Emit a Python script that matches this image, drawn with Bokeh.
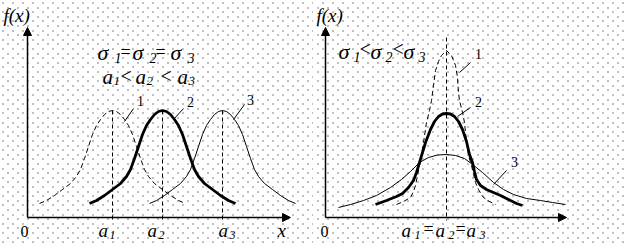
import numpy as np
from bokeh.plotting import figure
from bokeh.layouts import row
from bokeh.models import Range1d, Arrow, NormalHead, Label
from bokeh.embed import file_html
from bokeh.resources import INLINE

# ---------------- data ----------------
# Left panel: sigma1 = sigma2 = sigma3, a1 < a2 < a3 (same shape, shifted)
left_centers = [85, 135, 195]          # a1, a2, a3
left_dx = [-73, -66, -58, -50, -42, -36, -32, -28, -24, -20, -16, -12, -8, -4, 0,
           4, 8, 12, 16, 20, 24, 28, 32, 36, 42, 50, 58, 66, 73]
left_f = [14, 17, 22, 28, 34, 41, 48, 59, 71, 83, 92, 98, 103, 106, 107,
          106, 103, 98, 92, 83, 71, 59, 48, 41, 34, 28, 22, 17, 14]
left_labels = ["1", "2", "3"]

# Right panel: a1 = a2 = a3, sigma1 < sigma2 < sigma3
right_center = 121
r1_dx = [-50, -43, -36, -33, -31, -29, -27, -25, -23, -20, -17, -15, -13, -11, -8, -5, 0,
         5, 9, 11, 12, 13, 16, 18, 20, 22, 25, 27, 29, 32, 36, 41, 49]
r1_f = [13, 16, 20, 26, 32, 42, 52, 63, 75, 95, 107, 117, 132, 147, 156, 162, 167,
        162, 152, 140, 125, 117, 105, 95, 75, 62, 52, 43, 35, 28, 21, 17, 13]
r2_dx = [-71, -60, -50, -44, -38, -33, -30, -27, -24, -21, -16, -12, -8, -4, 0,
         4, 8, 12, 16, 20, 23, 26, 28, 30, 34, 40, 47, 54, 62, 70, 76]
r2_f = [13, 17, 21, 24, 30, 37, 45, 55, 65, 75, 88, 96, 101, 103.5, 104,
        103.5, 101, 96, 88, 76, 63, 55, 46, 38, 32, 28, 25, 22, 18, 14, 12]
r3_dx = [-108, -96, -83, -70, -56, -45, -36, -27, -18, -9, 0,
         9, 18, 26, 36, 47, 57, 67, 80, 94, 106, 119]
r3_f = [10, 13, 17, 22, 30, 38, 46, 55, 60, 62.5, 63,
        62, 59, 53, 45, 35, 28, 23, 19, 17, 15, 13]

FONT = "Liberation Serif"
AXIS_Y = 217   # pixel row of the x axis (page coordinates)


def make_fig(ox, xmax):
    p = figure(width=313, height=244, x_range=Range1d(-ox, xmax), y_range=Range1d(-27, 217),
               output_backend="svg", toolbar_location=None, min_border=0,
               x_axis_location=None, y_axis_location=None,
               outline_line_color=None, background_fill_color="white",
               border_fill_color="white")
    p.grid.visible = False
    return p


def dots(p, ox, x0):
    xs, ys = [], []
    k = 0
    while True:
        r = 2 + int(round(k * 4.6))
        if r >= 244:
            break
        off = 2 + (k % 2) * 5
        for c in range(x0 + ((off - x0) % 10), x0 + 313, 10):
            xs.append(c + 0.5 - (x0 + ox))
            ys.append(AXIS_Y - (r + 0.5))
        k += 1
    p.rect(x=xs, y=ys, width=1, height=1, fill_color="#000000", line_color=None)


def put(p, ox, px, py, s, size, italic=True, align="left"):
    p.add_layout(Label(x=px - ox, y=AXIS_Y - py + 0.28 * size, text=s, text_font=FONT,
                       text_font_size=f"{size}px",
                       text_font_style="italic" if italic else "normal",
                       text_align=align, text_baseline="alphabetic", text_color="black"))


def axes(p, xlen):
    p.add_layout(Arrow(end=NormalHead(size=8, fill_color="black", line_color="black", line_width=1),
                       x_start=0, y_start=0, x_end=0, y_end=190, line_width=1.5, line_color="black"))
    p.add_layout(Arrow(end=NormalHead(size=8, fill_color="black", line_color="black", line_width=1),
                       x_start=0, y_start=0, x_end=xlen, y_end=0, line_width=1.5, line_color="black"))


# ---------------- left panel ----------------
OXL = 27
pl = make_fig(OXL, 286)
dots(pl, OXL, 0)
axes(pl, 263)

for a, h in zip(left_centers, [107, 107, 107]):
    pl.line([a, a], [h, -4], line_color="black", line_width=1, line_dash="4 3")

styles = [dict(line_width=1, line_dash="5 3"), dict(line_width=2.8), dict(line_width=1)]
for a, st in zip(left_centers, styles):
    pl.line([a + d for d in left_dx], left_f, line_color="black", **st)

# leader lines
pl.line([106, 97], [109, 96], line_color="black", line_width=1)
pl.line([156, 146], [109, 98], line_color="black", line_width=1)
pl.line([217, 206], [113, 98], line_color="black", line_width=1)

put(pl, OXL, 140, 104, left_labels[0], 14, italic=False, align="center")
put(pl, OXL, 190, 105, left_labels[1], 14, italic=False, align="center")
put(pl, OXL, 250, 103, left_labels[2], 14, italic=False, align="center")

put(pl, OXL, 3, 20, "f(x)", 19)
# sigma1 = sigma2 = sigma3
for xs, sub in [(97, "1"), (132, "2"), (170, "3")]:
    put(pl, OXL, xs, 58, "σ", 22)
    put(pl, OXL, xs + 17, 61, sub, 14)
put(pl, OXL, 120, 57, "=", 18, italic=False)
put(pl, OXL, 155, 57, "=", 18, italic=False)
# a1 < a2 < a3
for xs, sub in [(102, "1"), (135, "2"), (177, "3")]:
    put(pl, OXL, xs, 82, "a", 21)
    put(pl, OXL, xs + 11, 84, sub, 13)
put(pl, OXL, 120, 81, "<", 20, italic=False)
put(pl, OXL, 160, 81, "<", 20, italic=False)
# bottom labels
put(pl, OXL, 20, 235, "0", 16, italic=False)
for xs, sub in [(98, "1"), (147, "2"), (218, "3")]:
    put(pl, OXL, xs, 235, "a", 19)
    put(pl, OXL, xs + 11, 238, sub, 12)
put(pl, OXL, 277, 235, "x", 19)

# ---------------- right panel ----------------
OXR = 12
pr = make_fig(OXR, 301)
dots(pr, OXR, 313)
axes(pr, 241)

pr.line([right_center, right_center], [180, -3], line_color="black", line_width=1, line_dash="4 3")
pr.line([right_center + d for d in r3_dx], r3_f, line_color="black", line_width=1)
pr.line([right_center + d for d in r1_dx], r1_f, line_color="black", line_width=1, line_dash="5 3")
pr.line([right_center + d for d in r2_dx], r2_f, line_color="black", line_width=2.8)

pr.line([145, 134], [155, 145], line_color="black", line_width=1)
pr.line([145, 132], [110, 101], line_color="black", line_width=1)
pr.line([181, 168], [47, 33], line_color="black", line_width=1)

OXR_PAGE = 325
put(pr, OXR_PAGE, 478, 57, "1", 14, italic=False, align="center")
put(pr, OXR_PAGE, 478, 105, "2", 14, italic=False, align="center")
put(pr, OXR_PAGE, 514, 165, "3", 14, italic=False, align="center")

put(pr, OXR_PAGE, 316, 20, "f(x)", 19)
for xs, sub in [(338, "1"), (370, "2"), (403, "3")]:
    put(pr, OXR_PAGE, xs, 57, "σ", 22)
    put(pr, OXR_PAGE, xs + 15, 60, sub, 14)
put(pr, OXR_PAGE, 359, 54, "<", 20, italic=False)
put(pr, OXR_PAGE, 392, 54, "<", 20, italic=False)

put(pr, OXR_PAGE, 320, 235, "0", 16, italic=False)
for xs, sub in [(401, "1"), (435, "2"), (466, "3")]:
    put(pr, OXR_PAGE, xs, 235, "a", 19)
    put(pr, OXR_PAGE, xs + 13, 238, sub, 12)
put(pr, OXR_PAGE, 423, 234, "=", 18, italic=False)
put(pr, OXR_PAGE, 455, 234, "=", 18, italic=False)

layout = row(pl, pr)
open("out.html", "w").write(file_html(layout, INLINE))
